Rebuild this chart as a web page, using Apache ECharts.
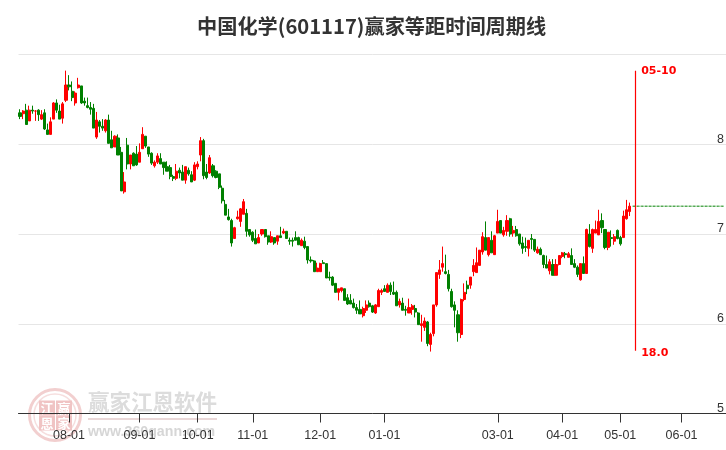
<!DOCTYPE html>
<html><head><meta charset="utf-8">
<script src="https://cdn.jsdelivr.net/npm/echarts@6/dist/echarts.min.js"></script>
<style>html,body{margin:0;padding:0;background:#fff}#c{width:726px;height:450px}</style></head>
<body><div id="c"></div>
<script>
const titleText = '中国化学(601117)赢家等距时间周期线';
const monthNames = ['07','08','09','10','11','12','01','02','03','04','05','06'];
const monthFirstDay = [10,1,1,1,1,1,1,1,1,1,1,1];
const monthTradingDays = [16,23,19,18,22,21,22,15,21,19,20,15];
const yTicks = [5,6,7,8,9];
// [open, close, low, high]
const candles = [
[8.35,8.31,8.28,8.39],[8.34,8.37,8.28,8.38],[8.38,8.22,8.22,8.45],[8.26,8.38,8.26,8.43],[8.38,8.37,8.34,8.43],
[8.37,8.37,8.26,8.38],[8.38,8.33,8.26,8.39],[8.28,8.33,8.27,8.38],[8.35,8.17,8.16,8.39],[8.16,8.11,8.11,8.23],
[8.11,8.25,8.11,8.30],[8.28,8.46,8.28,8.47],[8.46,8.38,8.35,8.50],[8.37,8.28,8.28,8.44],[8.29,8.45,8.23,8.47],
[8.49,8.66,8.47,8.82],[8.66,8.64,8.60,8.77],[8.59,8.52,8.48,8.70],[8.46,8.57,8.43,8.59],[8.63,8.66,8.62,8.74],
[8.65,8.46,8.45,8.65],[8.48,8.46,8.43,8.52],[8.43,8.41,8.40,8.52],[8.41,8.39,8.33,8.47],[8.40,8.18,8.18,8.45],
[8.08,8.27,8.06,8.36],[8.25,8.20,8.13,8.27],[8.20,8.18,8.15,8.28],[8.15,8.27,8.13,8.28],[8.27,8.01,8.01,8.33],
[8.05,7.96,7.96,8.15],[7.97,8.09,7.97,8.10],[8.07,7.88,7.88,8.11],[7.91,7.48,7.48,7.97],[7.47,7.58,7.45,7.69],
[7.99,7.78,7.72,8.07],[7.78,7.88,7.72,7.88],[7.90,7.76,7.76,7.91],[7.89,7.77,7.76,7.98],[7.80,7.91,7.80,8.01],
[7.95,8.11,7.95,8.19],[8.09,7.98,7.96,8.09],[7.97,7.89,7.86,7.97],[7.90,7.79,7.77,7.91],[7.76,7.80,7.74,7.82],
[7.80,7.87,7.78,7.90],[7.84,7.78,7.78,7.90],[7.80,7.74,7.66,7.80],[7.75,7.70,7.70,7.81],[7.74,7.64,7.61,7.77],
[7.64,7.62,7.59,7.66],[7.62,7.70,7.60,7.78],[7.71,7.68,7.62,7.74],[7.69,7.60,7.60,7.77],[7.60,7.75,7.56,7.75],
[7.71,7.67,7.65,7.74],[7.66,7.58,7.58,7.70],[7.60,7.77,7.59,7.80],[7.75,7.78,7.72,7.81],[7.88,8.04,7.81,8.08],
[8.04,7.65,7.61,8.06],[7.69,7.63,7.61,7.78],[7.68,7.85,7.67,7.88],[7.76,7.65,7.63,7.78],[7.70,7.63,7.62,7.71],
[7.67,7.52,7.50,7.67],[7.51,7.37,7.34,7.54],
[7.33,7.21,7.21,7.38],[7.19,7.16,7.15,7.28],[7.15,6.90,6.86,7.17],[6.95,7.07,6.95,7.08],[7.17,7.19,7.16,7.26],
[7.14,7.28,7.08,7.29],[7.22,7.36,7.22,7.39],[7.23,7.03,6.97,7.28],[7.05,6.99,6.97,7.05],[7.02,6.93,6.91,7.03],
[6.95,6.89,6.89,7.05],[6.90,6.96,6.90,7.00],[7.00,7.05,6.98,7.05],[7.05,6.97,6.96,7.05],[6.98,6.91,6.88,6.98],
[6.91,6.97,6.90,7.03],[6.96,6.90,6.88,6.96],[6.92,6.98,6.88,6.98],[6.98,6.96,6.96,7.08],[7.01,7.03,7.00,7.06],
[7.03,6.95,6.95,7.03],[6.93,6.92,6.88,6.96],[6.93,6.92,6.86,6.96],[6.96,6.93,6.93,7.03],[6.96,6.88,6.88,6.97],
[6.87,6.93,6.87,6.95],[6.92,6.85,6.83,6.97],[6.86,6.71,6.67,6.86],[6.71,6.70,6.68,6.75],[6.70,6.58,6.58,6.71],
[6.58,6.62,6.58,6.68],[6.58,6.67,6.58,6.68],[6.68,6.67,6.67,6.71],[6.67,6.51,6.51,6.67],[6.52,6.51,6.48,6.58],
[6.52,6.43,6.42,6.53],[6.45,6.35,6.35,6.45],[6.35,6.39,6.26,6.39],[6.37,6.40,6.35,6.40],[6.39,6.26,6.26,6.39],
[6.29,6.22,6.21,6.33],[6.26,6.22,6.22,6.33],[6.23,6.18,6.17,6.28],[6.18,6.15,6.11,6.22],[6.16,6.11,6.11,6.26],
[6.09,6.17,6.07,6.19],[6.15,6.21,6.12,6.26],[6.23,6.19,6.18,6.26],[6.20,6.13,6.12,6.21],[6.12,6.21,6.11,6.22],
[6.19,6.37,6.19,6.39],[6.35,6.37,6.32,6.39],[6.39,6.36,6.36,6.43],[6.35,6.43,6.35,6.45],[6.43,6.36,6.32,6.46],
[6.35,6.33,6.32,6.47],[6.35,6.20,6.20,6.37],[6.21,6.25,6.18,6.28],[6.23,6.15,6.15,6.29],[6.16,6.15,6.09,6.20],
[6.12,6.18,6.12,6.28],[6.16,6.20,6.10,6.22],[6.17,6.13,6.07,6.21],[6.12,5.99,5.99,6.13],[5.98,6.00,5.80,6.10],
[5.96,6.03,5.92,6.07],[6.02,5.78,5.75,6.03],[5.77,5.88,5.69,5.90],[5.89,6.21,5.86,6.21],[6.21,6.57,6.19,6.57],
[6.55,6.60,6.50,6.71],
[6.63,6.67,6.58,6.86],[6.58,6.56,6.55,6.77],[6.55,6.39,6.36,6.60],[6.36,6.19,6.18,6.39],[6.21,6.15,5.96,6.25],
[6.10,5.90,5.80,6.15],[5.88,6.27,5.84,6.28],[6.27,6.35,6.25,6.45],[6.43,6.39,6.33,6.48],[6.43,6.52,6.39,6.52],
[6.58,6.65,6.53,6.72],[6.57,6.68,6.57,6.85],[6.65,6.82,6.65,6.82],[6.80,6.97,6.77,7.02],[6.96,6.82,6.82,7.14],
[6.77,6.96,6.75,6.96],[6.93,6.79,6.79,7.03],[6.77,6.98,6.77,6.99],[7.01,7.14,7.01,7.27],[7.15,7.01,7.01,7.15],
[6.99,7.04,6.97,7.08],[7.03,7.15,6.98,7.21],[7.17,7.00,6.97,7.18],[7.01,7.04,6.97,7.09],[7.05,6.98,6.97,7.09],
[7.00,6.89,6.87,7.00],[6.90,6.84,6.78,6.97],[6.86,6.85,6.80,6.96],[6.84,6.93,6.75,6.93],[6.95,6.94,6.83,7.00],
[6.94,6.82,6.80,6.94],[6.79,6.83,6.78,6.86],[6.83,6.77,6.77,6.85],[6.76,6.66,6.62,6.77],[6.66,6.62,6.62,6.76],
[6.59,6.69,6.55,6.72],[6.66,6.54,6.54,6.72],[6.54,6.66,6.54,6.72],[6.66,6.76,6.65,6.76],[6.75,6.79,6.73,6.80],
[6.78,6.77,6.73,6.80],[6.74,6.78,6.74,6.80],[6.76,6.66,6.66,6.84],[6.67,6.63,6.62,6.72],[6.63,6.55,6.52,6.65],
[6.49,6.67,6.48,6.67],[6.67,6.56,6.56,6.75],[6.56,7.05,6.56,7.06],[7.00,6.86,6.85,7.11],[6.84,7.05,6.79,7.06],
[7.01,7.05,7.01,7.15],[6.99,7.14,6.99,7.27],[7.15,7.07,7.01,7.23],[7.05,6.85,6.83,7.05],[6.85,7.02,6.82,7.02],
[6.96,6.95,6.86,7.04],[6.92,6.97,6.88,7.00],[7.04,6.95,6.94,7.05],[6.96,6.89,6.87,6.98],[6.96,7.20,6.96,7.26],
[7.17,7.27,7.16,7.38],[7.25,7.31,7.20,7.35]
];
const futureLevel = 7.31;
const turnIndex = 201;
const turnTop = 8.82;
const turnBottom = 5.70;
const turnDateLabel = '05-10';
const turnCountLabel = '18.0';

const categories = [];
const monthStartSet = new Set();
monthNames.forEach((m, i) => {
  monthStartSet.add(categories.length);
  for (let d = 0; d < monthTradingDays[i]; d++) {
    categories.push(m + '-' + String(monthFirstDay[i] + d).padStart(2, '0'));
  }
});
monthStartSet.delete(0);
monthStartSet.delete(119 + 22); // 02-01 is not labelled in the reference
const futureSeries = categories.map((c, i) => (i >= candles.length) ? futureLevel : null);

const chart = echarts.init(document.getElementById('c'), null, {renderer: 'canvas'});
const isTick = (i) => monthStartSet.has(i);
const wm = '#dcdcdc';
const sealTile = (x, y, ch) => [
  {type: 'rect', shape: {x: x - 8, y: y - 7.5, width: 16, height: 15}, style: {fill: '#f0c4c4'}},
  {type: 'text', x: x, y: y, style: {text: ch, fill: '#fff', font: 'bold 13px "Noto Sans CJK SC"', textAlign: 'center', textVerticalAlign: 'middle'}}
];
chart.setOption({
  animation: false,
  backgroundColor: '#fff',
  title: {text: titleText, left: 192, top: 11, textStyle: {fontSize: 20.2, fontWeight: 'bold', color: '#333', fontFamily: '"Noto Sans CJK SC", sans-serif'}},
  grid: {left: 18.5, right: 0, top: 54.5, bottom: 36.5, outerBoundsMode: 'none', containLabel: false},
  xAxis: {
    type: 'category', data: categories, boundaryGap: true,
    axisLine: {show: true, lineStyle: {color: '#333', width: 1}},
    axisTick: {show: true, alignWithLabel: true, interval: (i) => isTick(i), length: 9, lineStyle: {color: '#333', width: 1}},
    axisLabel: {interval: (i) => isTick(i), color: '#333', fontSize: 12.5, margin: 16, fontFamily: 'Liberation Sans',
      formatter: (v) => v.slice(0, 2) + '-01', hideOverlap: false},
    splitLine: {show: false}
  },
  yAxis: {
    type: 'value', min: yTicks[0], max: yTicks[yTicks.length - 1], interval: 1, position: 'right',
    axisLine: {show: false}, axisTick: {show: false},
    axisLabel: {inside: true, verticalAlign: 'bottom', align: 'right', margin: 2, lineHeight: 10, color: '#333', fontSize: 12.5, fontFamily: 'Liberation Sans',
      formatter: (v) => v === 9 ? '' : String(v)},
    splitLine: {lineStyle: {color: '#e6e6e6', width: 1}}
  },
  graphic: [
    {type: 'group', silent: true, z: -1, children: [
      {type: 'circle', shape: {cx: 55, cy: 415, r: 25.5}, style: {fill: 'none', stroke: '#f2cfcf', lineWidth: 3}},
      {type: 'circle', shape: {cx: 55, cy: 415, r: 21}, style: {fill: 'none', stroke: '#f6dede', lineWidth: 1.5}},
      ...sealTile(47, 408, '江'), ...sealTile(64, 408, '赢'), ...sealTile(47, 423, '恩'), ...sealTile(64, 423, '家'),
      {type: 'text', x: 88, y: 402, style: {text: '赢家江恩软件', fill: wm, font: '600 21.5px "Noto Sans CJK SC"', textAlign: 'left', textVerticalAlign: 'middle'}},
      {type: 'rect', shape: {x: 88, y: 418, width: 129, height: 2}, style: {fill: '#ead8d8'}},
      {type: 'text', x: 88, y: 432, style: {text: 'www.360gann.com', fill: '#d6d6d6', font: 'bold 14.2px "Liberation Sans"', textAlign: 'left', textVerticalAlign: 'middle'}}
    ]}
  ],
  series: [
    {
      type: 'candlestick', data: candles, barWidth: 2.6,
      itemStyle: {color: '#ff0000', color0: '#008000', borderColor: '#ff0000', borderColor0: '#008000', borderWidth: 1},
      markLine: {
        silent: true, symbol: 'none', animation: false,
        lineStyle: {color: '#ff0000', width: 1.2, type: 'solid'},
        label: {show: false},
        data: [[{coord: [turnIndex, turnTop]}, {coord: [turnIndex, turnBottom]}]]
      },
      markPoint: {
        silent: true, symbol: 'circle', symbolSize: 0, animation: false,
        label: {show: true, position: 'right', distance: 5.5, color: '#ff0000', fontWeight: 'bold', fontSize: 11, fontFamily: 'DejaVu Sans'},
        data: [
          {coord: [turnIndex, turnTop], value: turnDateLabel, label: {formatter: turnDateLabel}},
          {coord: [turnIndex, turnBottom], value: turnCountLabel, label: {formatter: turnCountLabel, offset: [0, 2]}}
        ]
      }
    },
    {
      type: 'line', data: futureSeries, showSymbol: false, connectNulls: false,
      lineStyle: {color: '#008000', width: 1, type: [3, 1]}
    }
  ]
});
</script></body></html>
